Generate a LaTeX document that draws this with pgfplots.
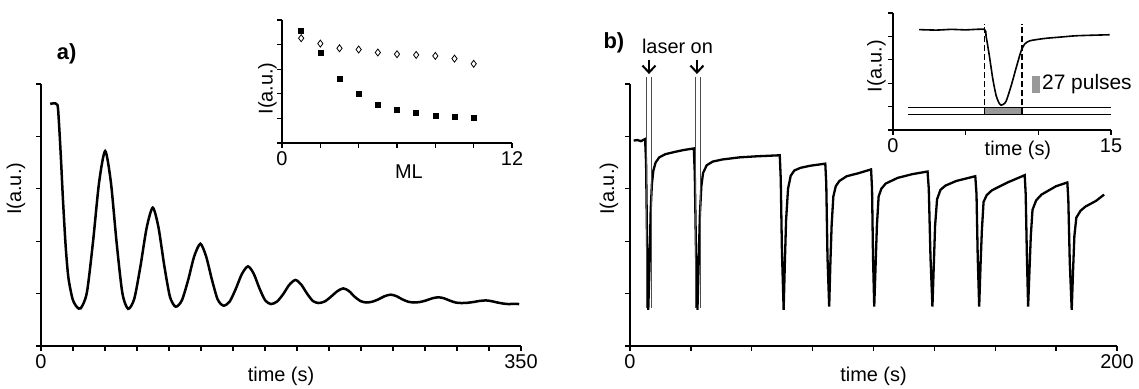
\documentclass[border=0pt]{standalone}
\usepackage{fontspec}
\setmainfont{Liberation Sans}
\usepackage{pgfplots}
\pgfplotsset{compat=1.18}
\usetikzlibrary{arrows.meta}
\newcommand\lab{\fontsize{20}{24}\selectfont}
\pgfplotsset{
  myaxis/.style={
    scale only axis, axis x line*=bottom, axis y line*=left,
    axis line style={-, line width=1.5bp, black},
    tick align=outside, major tick length=5bp,
    tick style={black, line width=1.3bp},
    ymin=0, ymax=5, ytick={0,1,2,3,4,5}, yticklabels={,,,,,},
    ticklabel style={font=\lab},
    label style={font=\lab},
    /pgf/number format/assume math mode=true,
    anchor=south west, clip=false,
  }
}
\begin{document}
\begin{tikzpicture}
\useasboundingbox (0,0) rectangle (1139bp,389bp);
% ---------------- panel a main
\begin{axis}[myaxis, at={(41bp,43bp)}, width=480bp, height=262bp,
  xmin=0, xmax=350,
  xtick={0,23.333,46.667,70,93.333,116.667,140,163.333,186.667,210,233.333,256.667,280,303.333,326.667,350},
  xticklabels={0,,,,,,,,,,,,,,,350},
  xlabel={time (s)},
  xlabel style={at={(axis description cs:0.5,-0.115)},anchor=center},
  ylabel={I(a.u.)},
  ylabel style={at={(axis description cs:-0.052,0.6)},anchor=center},
]
\addplot[black, line width=2.5bp, smooth, tension=0.45] coordinates {
(6.7,4.62) (9,4.63) (12,4.60) (13,4.3) (14.5,3.6) (16,2.8) (18,1.9) (20,1.3) (23,0.9) (26,0.75) (29,0.72)
(33.45,1.02) (37.9,1.98) (42.35,3.12) (46.8,3.72)
(50.98,3.12) (55.15,1.97) (59.33,1.01) (63.5,0.71)
(68,0.90) (72.5,1.52) (77,2.25) (81.5,2.64)
(85.68,2.26) (89.85,1.54) (94.03,0.94) (98.2,0.75)
(102.7,0.87) (107.2,1.25) (111.7,1.71) (116.2,1.95)
(120.4,1.71) (124.6,1.27) (128.8,0.89) (133,0.77)
(137.5,0.845) (141.95,1.085) (146.4,1.37) (150.9,1.52)
(155.1,1.38) (159.3,1.10) (163.5,0.87) (167.7,0.80)
(172.2,0.85) (176.6,0.99) (181.1,1.17) (185.6,1.26)
(189.8,1.17) (194,1.0) (198.2,0.86) (202.4,0.82)
(206.9,0.85) (211.4,0.94) (215.8,1.04) (220.3,1.10)
(224.5,1.05) (228.7,0.94) (232.8,0.86) (237,0.83)
(241.5,0.845) (246,0.89) (250.5,0.95) (255,0.98)
(259.25,0.95) (263.5,0.89) (267.75,0.845) (272,0.83)
(276.4,0.84) (280.9,0.87) (285.3,0.91) (289.7,0.93)
(293.9,0.91) (298.1,0.866) (302.3,0.83) (306.5,0.82)
(311,0.825) (315.4,0.84) (319.9,0.86) (324.4,0.87)
(328.6,0.855) (332.8,0.83) (337,0.81) (341,0.80) (345,0.805) (348.7,0.80)
};
\node[font=\bfseries\fontsize{22}{26}\selectfont] at (axis cs:18.7,5.57) {a)};
\end{axis}
% ---------------- panel a inset
\begin{axis}[myaxis, at={(282bp,246bp)}, width=230bp, height=123bp,
  xmin=0, xmax=12, xtick={0,2,4,6,8,10,12}, xticklabels={0,,,,,,12},
  xlabel={ML},
  xlabel style={at={(axis description cs:0.552,-0.236)},anchor=center},
  ylabel={I(a.u.)},
  ylabel style={at={(axis description cs:-0.063,0.443)},anchor=center},
]
\addplot[only marks, mark=square*, mark size=2.5bp, black] coordinates {
(1,4.57) (2,3.69) (3,2.62) (4,2.0) (5,1.54) (6,1.34) (7,1.22) (8,1.12) (9,1.05) (10,1.01)};
\addplot[only marks, mark=diamond, mark size=3.5bp, black, mark options={line width=0.8bp}] coordinates {
(1,4.26) (2,4.04) (3,3.85) (4,3.80) (5,3.68) (6,3.61) (7,3.58) (8,3.54) (9,3.43) (10,3.22)};
\end{axis}
% ---------------- panel b main
\begin{axis}[myaxis, at={(630bp,43bp)}, width=487bp, height=262bp,
  xmin=0, xmax=200, xtick={0,25,...,200}, xticklabels={0,,,,,,,,200},
  xlabel={time (s)},
  xlabel style={at={(axis description cs:0.5,-0.115)},anchor=center},
  ylabel={I(a.u.)},
  ylabel style={at={(axis description cs:-0.043,0.6)},anchor=center},
]
\addplot[black, line width=2.3bp] coordinates {
(1.5,3.92) (3,3.93) (4.5,3.91) (6.2,3.95)
(6.6,3.5) (7.0,2.0) (7.5,0.69) (8.0,1.5) (8.5,2.6) (9.0,3.1) (9.6,3.35) (10.5,3.5) (12,3.6) (14.5,3.66) (18,3.70) (22,3.74) (26.2,3.77)
(26.6,3.3) (27.1,1.8) (27.7,0.69) (28.2,1.6) (28.7,2.5) (29.3,3.05) (30,3.3) (31.5,3.45) (34,3.52) (38,3.56) (45,3.6) (52,3.62) (61.5,3.64)
(61.9,3.2) (62.4,1.8) (63.1,0.69) (63.6,1.6) (64.1,2.4) (64.9,3.0) (66,3.25) (67.5,3.35) (70,3.40) (74,3.44) (80.2,3.48)
(80.6,3.1) (81.1,1.7) (81.8,0.75) (82.3,1.6) (82.8,2.3) (83.5,2.85) (84.5,3.05) (86,3.15) (89,3.24) (94,3.30) (99,3.37)
(99.4,3.0) (99.8,1.7) (100.3,0.75) (100.9,1.6) (101.4,2.3) (102.1,2.85) (103.2,3.0) (105,3.1) (110,3.21) (116,3.28) (122.2,3.33)
(122.7,3.0) (123.4,1.7) (124.2,0.75) (124.8,1.6) (125.3,2.3) (126.1,2.8) (127.5,2.98) (129.5,3.06) (134,3.15) (141.8,3.24)
(142.3,2.9) (142.8,1.7) (143.4,0.75) (144.0,1.6) (144.5,2.2) (145.2,2.75) (146.5,2.88) (148.6,2.97) (155,3.12) (162.1,3.26)
(162.5,2.9) (163,1.7) (163.5,0.75) (164.1,1.5) (164.6,2.1) (165.3,2.6) (166.8,2.78) (169,2.89) (175,3.05) (179.6,3.12)
(180.0,2.8) (180.6,1.6) (181.4,0.69) (182,1.5) (182.5,2.1) (183.3,2.45) (185,2.58) (187,2.66) (191.4,2.77) (194.7,2.89)
};
\addplot[gray!60!black, line width=0.7bp] coordinates {(6.9,0.73) (6.9,5.13)};
\addplot[gray!60!black, line width=0.7bp] coordinates {(8.9,0.73) (8.9,5.13)};
\addplot[gray!60!black, line width=0.7bp] coordinates {(26.7,0.73) (26.7,5.13)};
\addplot[gray!60!black, line width=0.7bp] coordinates {(28.7,0.73) (28.7,5.13)};
\draw[line width=2bp, -{Straight Barb[length=7bp,width=13bp]}] (axis cs:7.8,5.46) -- (axis cs:7.8,5.19);
\draw[line width=2bp, -{Straight Barb[length=7bp,width=13bp]}] (axis cs:27.5,5.46) -- (axis cs:27.5,5.19);
\node[font=\lab] at (axis cs:19.5,5.71) {laser on};
\node[font=\bfseries\fontsize{22}{26}\selectfont] at (axis cs:-6.6,5.78) {b)};
\end{axis}
% ---------------- panel b inset
\begin{axis}[myaxis, at={(893bp,259bp)}, width=218bp, height=117bp,
  xmin=0, xmax=15, xtick={0,5,10,15}, xticklabels={0,,,15},
  xlabel={time (s)},
  xlabel style={at={(axis description cs:0.573,-0.171)},anchor=center},
  ylabel={I(a.u.)},
  ylabel style={at={(axis description cs:-0.076,0.547)},anchor=center},
]
\addplot[fill=gray!80, draw=none] coordinates {(6.29,0.67) (8.87,0.67) (8.87,0.96) (6.29,0.96)} --cycle;
\addplot[black, line width=1.3bp] coordinates {(1.06,0.96) (15,0.96)};
\addplot[black, line width=1.3bp] coordinates {(1.06,0.67) (15,0.67)};
\addplot[black, line width=1.3bp, dash pattern=on 6bp off 3bp] coordinates {(6.29,0.67) (6.29,4.53)};
\addplot[black, line width=1.3bp, dash pattern=on 6bp off 3bp] coordinates {(8.87,0.67) (8.87,4.53)};
\addplot[black, line width=1.6bp, smooth, tension=0.4] coordinates {
(1.8,4.29) (3,4.27) (4,4.30) (5,4.28) (6.29,4.30) (6.4,4.03) (6.63,3.17) (6.87,2.17) (7.1,1.46) (7.3,1.15) (7.44,1.06) (7.6,1.1) (7.79,1.24) (8.13,1.89) (8.48,2.67) (8.82,3.39) (9.06,3.67) (9.4,3.81) (10.4,3.91) (11.5,3.97) (12.7,4.03) (14.9,4.07)};
\addplot[fill=gray!80, draw=none] coordinates {(9.55,1.59) (10.1,1.59) (10.1,2.31) (9.55,2.31)} --cycle;
\node[font=\fontsize{21}{25}\selectfont, anchor=west, inner sep=0pt] at (axis cs:10.25,1.95) {27 pulses};
\end{axis}
\end{tikzpicture}
\end{document}
